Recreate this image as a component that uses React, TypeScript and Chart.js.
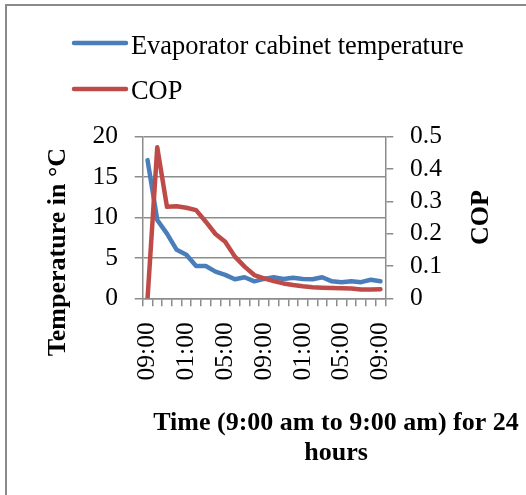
import React, { useEffect, useRef } from "react";
import { Chart, registerables } from "chart.js";

Chart.register(...registerables);

const categories = [
  "09:00", "10:00", "11:00", "12:00", "01:00", "02:00", "03:00", "04:00",
  "05:00", "06:00", "07:00", "08:00", "09:00", "10:00", "11:00", "12:00",
  "01:00", "02:00", "03:00", "04:00", "05:00", "06:00", "07:00", "08:00", "09:00",
];

const evaporatorTemp = [
  17.1, 9.7, 8.0, 6.0, 5.4, 4.0, 4.0, 3.3, 2.9, 2.35, 2.6, 2.1, 2.4,
  2.6, 2.4, 2.55, 2.4, 2.35, 2.6, 2.1, 2.0, 2.1, 2.0, 2.3, 2.1,
];

const cop = [
  0, 0.467, 0.283, 0.285, 0.28, 0.273, 0.237, 0.199, 0.175, 0.129, 0.098,
  0.072, 0.062, 0.053, 0.046, 0.041, 0.037, 0.034, 0.033, 0.032, 0.031,
  0.03, 0.027, 0.027, 0.028,
];

const seriesNames = ["Evaporator cabinet temperature", "COP"];
const leftTitle = "Temperature in °C";
const rightTitle = "COP";
const xTitleLines = ["Time (9:00 am to 9:00 am) for 24", "hours"];

const FONT = "'Liberation Serif', 'Times New Roman', serif";
const GRID = "#8c8c8c";
const BLUE = "#4A7EBB";
const RED = "#BE4B48";

const overlay = {
  id: "overlay",
  afterDraw(chart: any) {
    const ctx = chart.ctx;
    const area = chart.chartArea;
    ctx.save();
    // legend
    const legendY = [43, 89];
    const legendBase = [54, 99];
    chart.data.datasets.forEach((ds: any, i: number) => {
      ctx.strokeStyle = ds.borderColor;
      ctx.lineWidth = ds.borderWidth;
      ctx.lineCap = "round";
      ctx.beginPath();
      ctx.moveTo(74, legendY[i]);
      ctx.lineTo(126, legendY[i]);
      ctx.stroke();
      ctx.fillStyle = "#000";
      ctx.font = `26.4px ${FONT}`;
      ctx.textAlign = "left";
      ctx.textBaseline = "alphabetic";
      ctx.fillText(ds.label, 131, legendBase[i]);
    });
    // axis titles
    ctx.fillStyle = "#000";
    ctx.font = `bold 26px ${FONT}`;
    ctx.textAlign = "center";
    ctx.textBaseline = "alphabetic";
    ctx.save();
    ctx.translate(65, 252);
    ctx.rotate(-Math.PI / 2);
    ctx.fillText(leftTitle, 0, 0);
    ctx.restore();
    ctx.save();
    ctx.translate(488, (area.top + area.bottom) / 2);
    ctx.rotate(-Math.PI / 2);
    ctx.fillText(rightTitle, 0, 0);
    ctx.restore();
    ctx.fillText(xTitleLines[0], 336, 430);
    ctx.fillText(xTitleLines[1], 336, 460);
    ctx.restore();
  },
};

export default function App() {
  const ref = useRef<HTMLCanvasElement>(null);
  useEffect(() => {
    if (!ref.current) return;
    const chart = new Chart(ref.current, {
      type: "line",
      data: {
        labels: categories,
        datasets: [
          {
            label: seriesNames[0],
            data: evaporatorTemp,
            borderColor: BLUE,
            backgroundColor: BLUE,
            borderWidth: 4.5,
            pointRadius: 0,
            tension: 0,
            yAxisID: "y",
            order: 1,
            borderJoinStyle: "round",
            borderCapStyle: "round",
          },
          {
            label: seriesNames[1],
            data: cop,
            borderColor: RED,
            backgroundColor: RED,
            borderWidth: 4.5,
            pointRadius: 0,
            tension: 0,
            yAxisID: "y1",
            order: 0,
            borderJoinStyle: "round",
            borderCapStyle: "round",
          },
        ],
      },
      options: {
        responsive: false,
        animation: false,
        layout: { padding: { top: 136.7, left: 0, right: 0, bottom: 0 } },
        plugins: { legend: { display: false }, tooltip: { enabled: false } },
        scales: {
          x: {
            type: "category",
            offset: true,
            grid: {
              display: true,
              drawOnChartArea: false,
              drawTicks: true,
              tickLength: 8,
              offset: true,
              color: GRID,
              lineWidth: 1.5,
            },
            border: { display: true, color: GRID, width: 1.5 },
            ticks: {
              autoSkip: false,
              maxRotation: 90,
              minRotation: 90,
              padding: 16,
              color: "#000",
              font: { family: FONT, size: 25.5 },
              callback: (_v: any, i: number) => (i % 4 === 0 ? categories[i] : ""),
            },
            afterFit: (s: any) => {
              s.height = 495 - 298.3;
            },
          },
          y: {
            position: "left",
            min: 0,
            max: 20,
            ticks: {
              autoSkip: false,
              stepSize: 5,
              padding: 16.7,
              color: "#000",
              font: { family: FONT, size: 25.5 },
            },
            grid: { color: GRID, lineWidth: 1.5, tickLength: 8, drawTicks: true },
            border: { display: true, color: GRID, width: 1.5 },
            afterFit: (s: any) => {
              s.width = 142.7;
            },
          },
          y1: {
            position: "right",
            min: 0,
            max: 0.5,
            ticks: {
              autoSkip: false,
              stepSize: 0.1,
              padding: 16.7,
              color: "#000",
              font: { family: FONT, size: 25.5 },
            },
            grid: { drawOnChartArea: false, color: GRID, lineWidth: 1.5, tickLength: 8 },
            border: { display: true, color: GRID, width: 1.5 },
            afterFit: (s: any) => {
              s.width = 526 - 385.3;
            },
          },
        },
      },
      plugins: [overlay],
    } as any);
    return () => chart.destroy();
  }, []);
  return (
    <div style={{ position: "fixed", left: 0, top: 0, width: 526, height: 495, overflow: "hidden", background: "#fff" }}>
      <div
        style={{
          position: "absolute",
          left: 5,
          top: 4,
          width: 600,
          height: 600,
          borderLeft: "2px solid #8a8a8a",
          borderTop: "2px solid #8a8a8a",
        }}
      />
      <canvas ref={ref} width={526} height={495} style={{ position: "absolute", left: 0, top: 0, display: "block" }} />
    </div>
  );
}
